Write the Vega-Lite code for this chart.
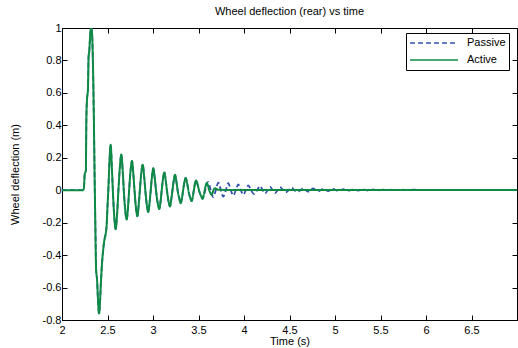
{
  "$schema": "https://vega.github.io/schema/vega-lite/v6.json",
  "width": 455,
  "height": 292,
  "autosize": {"type": "none"},
  "padding": {"left": 62, "top": 28, "right": 1, "bottom": 28},
  "background": "white",
  "title": {"text": "Wheel deflection (rear) vs time", "font": "Liberation Sans", "fontSize": 11, "fontWeight": "normal", "color": "black", "offset": 5, "anchor": "middle"},
  "config": {
    "view": {"stroke": "black", "strokeWidth": 1},
    "axis": {"labelFont": "Liberation Sans", "labelFontSize": 11, "labelColor": "black", "titleFont": "Liberation Sans", "titleFontSize": 11, "titleFontWeight": "normal", "titleColor": "black", "domainColor": "black", "tickColor": "black", "grid": false, "tickSize": -5},
    "legend": {"clipHeight": 14, "rowPadding": 3, "symbolSize": 2300, "symbolType": "stroke", "symbolStrokeWidth": 1.5, "labelFont": "Liberation Sans", "labelFontSize": 11, "labelColor": "black", "labelOffset": 8, "padding": 3, "strokeColor": "black", "fillColor": "white", "cornerRadius": 0}
  },
  "datasets": {
    "d": [
      {"s":"Passive","t":2.0,"v":0},{"s":"Passive","t":2.1,"v":0},{"s":"Passive","t":2.23,"v":0},{"s":"Passive","t":2.24,"v":0.01},{"s":"Passive","t":2.25,"v":0.1},{"s":"Passive","t":2.262,"v":0.12},{"s":"Passive","t":2.268,"v":0.45},{"s":"Passive","t":2.275,"v":0.56},{"s":"Passive","t":2.285,"v":0.62},{"s":"Passive","t":2.292,"v":0.82},{"s":"Passive","t":2.3,"v":0.86},{"s":"Passive","t":2.31,"v":0.96},{"s":"Passive","t":2.32,"v":1.0},{"s":"Passive","t":2.33,"v":0.97},{"s":"Passive","t":2.34,"v":0.78},{"s":"Passive","t":2.35,"v":0.45},{"s":"Passive","t":2.358,"v":0.1},{"s":"Passive","t":2.366,"v":-0.2},{"s":"Passive","t":2.375,"v":-0.49},{"s":"Passive","t":2.385,"v":-0.55},{"s":"Passive","t":2.396,"v":-0.68},{"s":"Passive","t":2.407,"v":-0.76},{"s":"Passive","t":2.416,"v":-0.71},{"s":"Passive","t":2.425,"v":-0.6},{"s":"Passive","t":2.44,"v":-0.45},{"s":"Passive","t":2.46,"v":-0.33},{"s":"Passive","t":2.49,"v":-0.22},{"s":"Passive","t":2.5,"v":-0.1},{"s":"Passive","t":2.509,"v":0.0},{"s":"Passive","t":2.522,"v":0.18},{"s":"Passive","t":2.535,"v":0.28},{"s":"Passive","t":2.548,"v":0.14},{"s":"Passive","t":2.562,"v":-0.04},{"s":"Passive","t":2.575,"v":-0.17},{"s":"Passive","t":2.59,"v":-0.24},{"s":"Passive","t":2.605,"v":-0.15},{"s":"Passive","t":2.622,"v":0.02},{"s":"Passive","t":2.637,"v":0.15},{"s":"Passive","t":2.652,"v":0.22},{"s":"Passive","t":2.667,"v":0.12},{"s":"Passive","t":2.681,"v":-0.02},{"s":"Passive","t":2.696,"v":-0.13},{"s":"Passive","t":2.711,"v":-0.18},{"s":"Passive","t":2.726,"v":-0.1},{"s":"Passive","t":2.74,"v":0.02},{"s":"Passive","t":2.755,"v":0.13},{"s":"Passive","t":2.769,"v":0.18},{"s":"Passive","t":2.784,"v":0.1},{"s":"Passive","t":2.798,"v":-0.01},{"s":"Passive","t":2.813,"v":-0.11},{"s":"Passive","t":2.828,"v":-0.16},{"s":"Passive","t":2.843,"v":-0.09},{"s":"Passive","t":2.857,"v":0.01},{"s":"Passive","t":2.872,"v":0.11},{"s":"Passive","t":2.887,"v":0.157},{"s":"Passive","t":2.902,"v":0.09},{"s":"Passive","t":2.917,"v":-0.01},{"s":"Passive","t":2.932,"v":-0.09},{"s":"Passive","t":2.948,"v":-0.135},{"s":"Passive","t":2.962,"v":-0.08},{"s":"Passive","t":2.975,"v":0.0},{"s":"Passive","t":2.99,"v":0.09},{"s":"Passive","t":3.003,"v":0.135},{"s":"Passive","t":3.02,"v":0.07},{"s":"Passive","t":3.035,"v":-0.01},{"s":"Passive","t":3.052,"v":-0.08},{"s":"Passive","t":3.069,"v":-0.115},{"s":"Passive","t":3.083,"v":-0.07},{"s":"Passive","t":3.096,"v":0.0},{"s":"Passive","t":3.11,"v":0.07},{"s":"Passive","t":3.124,"v":0.11},{"s":"Passive","t":3.14,"v":0.06},{"s":"Passive","t":3.155,"v":-0.01},{"s":"Passive","t":3.171,"v":-0.07},{"s":"Passive","t":3.187,"v":-0.1},{"s":"Passive","t":3.2,"v":-0.06},{"s":"Passive","t":3.214,"v":0.0},{"s":"Passive","t":3.228,"v":0.06},{"s":"Passive","t":3.242,"v":0.095},{"s":"Passive","t":3.258,"v":0.05},{"s":"Passive","t":3.273,"v":-0.01},{"s":"Passive","t":3.289,"v":-0.05},{"s":"Passive","t":3.304,"v":-0.08},{"s":"Passive","t":3.318,"v":-0.05},{"s":"Passive","t":3.331,"v":0.0},{"s":"Passive","t":3.345,"v":0.05},{"s":"Passive","t":3.359,"v":0.076},{"s":"Passive","t":3.376,"v":0.04},{"s":"Passive","t":3.392,"v":-0.01},{"s":"Passive","t":3.408,"v":-0.045},{"s":"Passive","t":3.425,"v":-0.067},{"s":"Passive","t":3.437,"v":-0.04},{"s":"Passive","t":3.449,"v":0.0},{"s":"Passive","t":3.461,"v":0.04},{"s":"Passive","t":3.473,"v":0.06},{"s":"Passive","t":3.49,"v":0.035},{"s":"Passive","t":3.51,"v":-0.01},{"s":"Passive","t":3.528,"v":-0.035},{"s":"Passive","t":3.546,"v":-0.053},
      {"s":"Passive","t":3.56,"v":-0.03},{"s":"Passive","t":3.575,"v":0},{"s":"Passive","t":3.59,"v":0.035},{"s":"Passive","t":3.605,"v":0.052},{"s":"Passive","t":3.62,"v":0.03},{"s":"Passive","t":3.635,"v":0},{"s":"Passive","t":3.65,"v":-0.03},{"s":"Passive","t":3.663,"v":-0.042},{"s":"Passive","t":3.677,"v":-0.025},{"s":"Passive","t":3.69,"v":0},{"s":"Passive","t":3.704,"v":0.03},{"s":"Passive","t":3.718,"v":0.046},{"s":"Passive","t":3.732,"v":0.03},{"s":"Passive","t":3.745,"v":0},{"s":"Passive","t":3.759,"v":-0.028},{"s":"Passive","t":3.773,"v":-0.04},{"s":"Passive","t":3.787,"v":-0.024},{"s":"Passive","t":3.8,"v":0},{"s":"Passive","t":3.827,"v":0.043},{"s":"Passive","t":3.855,"v":0},{"s":"Passive","t":3.882,"v":-0.033},{"s":"Passive","t":3.91,"v":0},{"s":"Passive","t":3.937,"v":0.036},{"s":"Passive","t":3.965,"v":0},{"s":"Passive","t":3.992,"v":-0.028},{"s":"Passive","t":4.02,"v":0},{"s":"Passive","t":4.047,"v":0.03},{"s":"Passive","t":4.078,"v":0},{"s":"Passive","t":4.11,"v":-0.024},{"s":"Passive","t":4.145,"v":0},{"s":"Passive","t":4.176,"v":0.026},{"s":"Passive","t":4.205,"v":0},{"s":"Passive","t":4.231,"v":-0.02},{"s":"Passive","t":4.26,"v":0},{"s":"Passive","t":4.286,"v":0.022},{"s":"Passive","t":4.315,"v":0},{"s":"Passive","t":4.341,"v":-0.017},{"s":"Passive","t":4.37,"v":0},{"s":"Passive","t":4.396,"v":0.019},{"s":"Passive","t":4.43,"v":0},{"s":"Passive","t":4.46,"v":-0.013},{"s":"Passive","t":4.49,"v":0},{"s":"Passive","t":4.524,"v":0.016},{"s":"Passive","t":4.555,"v":0},{"s":"Passive","t":4.587,"v":-0.011},{"s":"Passive","t":4.62,"v":0},{"s":"Passive","t":4.65,"v":0.013},{"s":"Passive","t":4.68,"v":0},{"s":"Passive","t":4.705,"v":-0.009},{"s":"Passive","t":4.73,"v":0},{"s":"Passive","t":4.76,"v":0.011},{"s":"Passive","t":4.79,"v":0},{"s":"Passive","t":4.815,"v":-0.007},{"s":"Passive","t":4.84,"v":0},{"s":"Passive","t":4.87,"v":0.009},{"s":"Passive","t":4.9,"v":0},{"s":"Passive","t":4.925,"v":-0.005},{"s":"Passive","t":4.95,"v":0},{"s":"Passive","t":4.98,"v":0.008},{"s":"Passive","t":5.01,"v":0},{"s":"Passive","t":5.035,"v":-0.004},{"s":"Passive","t":5.06,"v":0},{"s":"Passive","t":5.09,"v":0.007},{"s":"Passive","t":5.12,"v":0},{"s":"Passive","t":5.145,"v":-0.003},{"s":"Passive","t":5.17,"v":0},{"s":"Passive","t":5.2,"v":0.006},{"s":"Passive","t":5.23,"v":0},{"s":"Passive","t":5.255,"v":-0.002},{"s":"Passive","t":5.28,"v":0},{"s":"Passive","t":5.31,"v":0.005},{"s":"Passive","t":5.34,"v":0},{"s":"Passive","t":5.365,"v":-0.002},{"s":"Passive","t":5.39,"v":0},{"s":"Passive","t":5.42,"v":0.005},{"s":"Passive","t":5.45,"v":0},{"s":"Passive","t":5.475,"v":-0.001},{"s":"Passive","t":5.5,"v":0},{"s":"Passive","t":5.53,"v":0.004},{"s":"Passive","t":5.56,"v":0},{"s":"Passive","t":5.64,"v":0.004},{"s":"Passive","t":5.67,"v":0.001},{"s":"Passive","t":5.75,"v":0.003},{"s":"Passive","t":5.78,"v":0.001},{"s":"Passive","t":5.86,"v":0.003},{"s":"Passive","t":6.0,"v":0.001},{"s":"Passive","t":7.0,"v":0.001},
      {"s":"Active","t":2.0,"v":0},{"s":"Active","t":2.1,"v":0},{"s":"Active","t":2.23,"v":0},{"s":"Active","t":2.24,"v":0.01},{"s":"Active","t":2.25,"v":0.1},{"s":"Active","t":2.262,"v":0.12},{"s":"Active","t":2.268,"v":0.45},{"s":"Active","t":2.275,"v":0.56},{"s":"Active","t":2.285,"v":0.62},{"s":"Active","t":2.292,"v":0.82},{"s":"Active","t":2.3,"v":0.86},{"s":"Active","t":2.31,"v":0.96},{"s":"Active","t":2.32,"v":1.0},{"s":"Active","t":2.33,"v":0.97},{"s":"Active","t":2.34,"v":0.78},{"s":"Active","t":2.35,"v":0.45},{"s":"Active","t":2.358,"v":0.1},{"s":"Active","t":2.366,"v":-0.2},{"s":"Active","t":2.375,"v":-0.49},{"s":"Active","t":2.385,"v":-0.55},{"s":"Active","t":2.396,"v":-0.68},{"s":"Active","t":2.407,"v":-0.76},{"s":"Active","t":2.416,"v":-0.71},{"s":"Active","t":2.425,"v":-0.6},{"s":"Active","t":2.44,"v":-0.45},{"s":"Active","t":2.46,"v":-0.33},{"s":"Active","t":2.49,"v":-0.22},{"s":"Active","t":2.5,"v":-0.1},{"s":"Active","t":2.509,"v":0.0},{"s":"Active","t":2.522,"v":0.18},{"s":"Active","t":2.535,"v":0.28},{"s":"Active","t":2.548,"v":0.14},{"s":"Active","t":2.562,"v":-0.04},{"s":"Active","t":2.575,"v":-0.17},{"s":"Active","t":2.59,"v":-0.24},{"s":"Active","t":2.605,"v":-0.15},{"s":"Active","t":2.622,"v":0.02},{"s":"Active","t":2.637,"v":0.15},{"s":"Active","t":2.652,"v":0.22},{"s":"Active","t":2.667,"v":0.12},{"s":"Active","t":2.681,"v":-0.02},{"s":"Active","t":2.696,"v":-0.13},{"s":"Active","t":2.711,"v":-0.18},{"s":"Active","t":2.726,"v":-0.1},{"s":"Active","t":2.74,"v":0.02},{"s":"Active","t":2.755,"v":0.13},{"s":"Active","t":2.769,"v":0.18},{"s":"Active","t":2.784,"v":0.1},{"s":"Active","t":2.798,"v":-0.01},{"s":"Active","t":2.813,"v":-0.11},{"s":"Active","t":2.828,"v":-0.16},{"s":"Active","t":2.843,"v":-0.09},{"s":"Active","t":2.857,"v":0.01},{"s":"Active","t":2.872,"v":0.11},{"s":"Active","t":2.887,"v":0.157},{"s":"Active","t":2.902,"v":0.09},{"s":"Active","t":2.917,"v":-0.01},{"s":"Active","t":2.932,"v":-0.09},{"s":"Active","t":2.948,"v":-0.135},{"s":"Active","t":2.962,"v":-0.08},{"s":"Active","t":2.975,"v":0.0},{"s":"Active","t":2.99,"v":0.09},{"s":"Active","t":3.003,"v":0.135},{"s":"Active","t":3.02,"v":0.07},{"s":"Active","t":3.035,"v":-0.01},{"s":"Active","t":3.052,"v":-0.08},{"s":"Active","t":3.069,"v":-0.115},{"s":"Active","t":3.083,"v":-0.07},{"s":"Active","t":3.096,"v":0.0},{"s":"Active","t":3.11,"v":0.07},{"s":"Active","t":3.124,"v":0.11},{"s":"Active","t":3.14,"v":0.06},{"s":"Active","t":3.155,"v":-0.01},{"s":"Active","t":3.171,"v":-0.07},{"s":"Active","t":3.187,"v":-0.1},{"s":"Active","t":3.2,"v":-0.06},{"s":"Active","t":3.214,"v":0.0},{"s":"Active","t":3.228,"v":0.06},{"s":"Active","t":3.242,"v":0.095},{"s":"Active","t":3.258,"v":0.05},{"s":"Active","t":3.273,"v":-0.01},{"s":"Active","t":3.289,"v":-0.05},{"s":"Active","t":3.304,"v":-0.08},{"s":"Active","t":3.318,"v":-0.05},{"s":"Active","t":3.331,"v":0.0},{"s":"Active","t":3.345,"v":0.05},{"s":"Active","t":3.359,"v":0.076},{"s":"Active","t":3.376,"v":0.04},{"s":"Active","t":3.392,"v":-0.01},{"s":"Active","t":3.408,"v":-0.045},{"s":"Active","t":3.425,"v":-0.067},{"s":"Active","t":3.437,"v":-0.04},{"s":"Active","t":3.449,"v":0.0},{"s":"Active","t":3.461,"v":0.04},{"s":"Active","t":3.473,"v":0.06},{"s":"Active","t":3.49,"v":0.035},{"s":"Active","t":3.51,"v":-0.01},{"s":"Active","t":3.528,"v":-0.035},{"s":"Active","t":3.546,"v":-0.053},
      {"s":"Active","t":3.557,"v":-0.03},{"s":"Active","t":3.568,"v":0.0},{"s":"Active","t":3.58,"v":0.03},{"s":"Active","t":3.59,"v":0.045},{"s":"Active","t":3.604,"v":0.03},{"s":"Active","t":3.618,"v":0.0},{"s":"Active","t":3.632,"v":-0.02},{"s":"Active","t":3.645,"v":-0.028},{"s":"Active","t":3.655,"v":-0.015},{"s":"Active","t":3.665,"v":0.0},{"s":"Active","t":3.675,"v":0.01},{"s":"Active","t":3.685,"v":0.012},{"s":"Active","t":3.7,"v":0.006},{"s":"Active","t":3.72,"v":0.003},{"s":"Active","t":3.8,"v":0.002},{"s":"Active","t":4.0,"v":0.002},{"s":"Active","t":5.0,"v":0.001},{"s":"Active","t":7.0,"v":0.001}
    ]
  },
  "data": {"name": "d"},
  "layer": [
    {
      "transform": [{"filter": "datum.s == 'Passive'"}],
      "mark": {"type": "line", "strokeWidth": 1.8, "interpolate": "monotone", "clip": true},
      "encoding": {
        "x": {"field": "t", "type": "quantitative", "scale": {"domain": [2, 7], "nice": false, "zero": false},
              "axis": {"orient": "bottom", "title": "Time (s)", "titlePadding": 0, "values": [2, 2.5, 3, 3.5, 4, 4.5, 5, 5.5, 6, 6.5], "labelPadding": 9, "labelExpr": "replace(format(datum.value, '~g'), '\u2212', '-')", "labelFlush": false}},
        "y": {"field": "v", "type": "quantitative", "scale": {"domain": [-0.8, 1], "nice": false, "zero": false},
              "axis": {"orient": "left", "title": "Wheel deflection (m)", "titlePadding": 22, "values": [-0.8, -0.6, -0.4, -0.2, 0, 0.2, 0.4, 0.6, 0.8, 1], "labelPadding": 6, "labelExpr": "replace(format(datum.value, '~g'), '\u2212', '-')", "labelFlush": false}},
        "color": {"field": "s", "type": "nominal", "scale": {"domain": ["Passive", "Active"], "range": ["#3352b0", "#0f8a45"]},
                  "legend": {"title": null, "orient": "none", "legendX": 344, "legendY": 5}},
        "strokeDash": {"field": "s", "type": "nominal", "scale": {"domain": ["Passive", "Active"], "range": [[5, 3], [1, 0]]},
                  "legend": {"title": null, "orient": "none", "legendX": 344, "legendY": 5}}
      }
    },
    {
      "transform": [{"filter": "datum.s == 'Active'"}],
      "mark": {"type": "line", "strokeWidth": 2, "interpolate": "monotone", "clip": true},
      "encoding": {
        "x": {"field": "t", "type": "quantitative", "axis": {"orient": "top", "title": null, "labels": false, "domain": false, "values": [2, 2.5, 3, 3.5, 4, 4.5, 5, 5.5, 6, 6.5]}},
        "y": {"field": "v", "type": "quantitative", "axis": {"orient": "right", "title": null, "labels": false, "domain": false, "values": [-0.8, -0.6, -0.4, -0.2, 0, 0.2, 0.4, 0.6, 0.8, 1]}},
        "color": {"field": "s", "type": "nominal"},
        "strokeDash": {"field": "s", "type": "nominal"}
      }
    }
  ],
  "resolve": {"axis": {"x": "independent", "y": "independent"}}
}
